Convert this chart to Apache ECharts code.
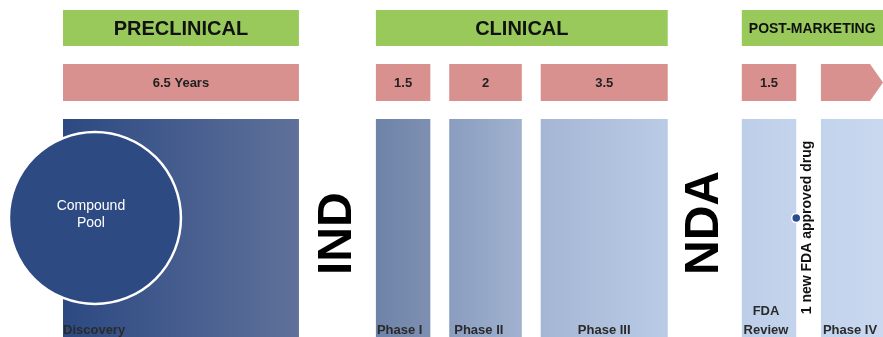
<!DOCTYPE html>
<html>
<head>
<meta charset="utf-8">
<script src="https://cdn.jsdelivr.net/npm/echarts@6/dist/echarts.min.js"></script>
<style>
  html, body { margin: 0; padding: 0; background: #ffffff; }
  #chart { width: 883px; height: 337px; }
</style>
</head>
<body>
<div id="chart"></div>
<script>
// Drug development timeline: phases, stage durations (years) and stages
const phaseNames = ['PRECLINICAL', 'CLINICAL', 'POST-MARKETING'];
const stageNames = ['Discovery', 'Phase I', 'Phase II', 'Phase III', 'FDA\nReview', 'Phase IV'];
const stageYears = [6.5, 1.5, 2, 3.5, 1.5, null];          // Phase IV is open-ended
const yearLabels = ['6.5 Years', '1.5', '2', '3.5', '1.5', ''];
const stagePhase = [0, 1, 1, 1, 2, 2];
const filingNames = ['IND', 'NDA'];
const filingAfterStage = [0, 3];
const poolLabel = 'Compound\nPool';
const approvalLabel = '1 new FDA approved drug';
const approvalAfterStage = 4;

// ---- layout ----
const FONT = '"Liberation Sans", Arial, Helvetica, sans-serif';
const gapYears = [2.12, 0.52, 0.52, 2.04, 0.68];           // white space between stage blocks
const X_MIN = -1.7355, X_MAX = 22.59;
const ROWS = { phase: [10, 46], dur: [64, 101], stage: [119, 345] };
const GREEN = '#99c95b';
const RED = '#d8918f';
const stageColors = [
  ['#2c4982', '#5f719a'],
  ['#6d83a8', '#7e90b2'],
  ['#8a9dbf', '#a0b2cf'],
  ['#a4b6d4', '#b9cbe5'],
  ['#bdcee9', '#c4d4ec'],
  ['#c2d3ec', '#c9d8ef']
];
const stageLabelAlign = ['left', 'left', 'left', 'center', 'center', 'left'];
const stageLabelPad = [0, 1, 5, 0, -3, 2];

// stage start / end positions on the year axis
const starts = [], ends = [];
{
  let t = 0;
  stageNames.forEach((_, i) => {
    starts.push(t);
    const len = stageYears[i] == null ? null : stageYears[i];
    ends.push(len == null ? X_MAX : t + len);
    if (len != null) t += len + (gapYears[i] || 0);
  });
}

const phaseData = phaseNames.map((_, p) => {
  const idx = stagePhase.map((q, i) => q === p ? i : -1).filter(i => i >= 0);
  const s = starts[idx[0]];
  const last = idx[idx.length - 1];
  const e = stageYears[last] == null ? X_MAX + 0.5 : ends[last];
  return [s, e, p];
});
const stageData = stageNames.map((_, i) => [starts[i], ends[i], i]);
const filingData = filingAfterStage.map((si, j) => [(ends[si] + starts[si + 1]) / 2, j]);

const chart = echarts.init(document.getElementById('chart'), null, { renderer: 'canvas' });

function rectBetween(api, x0, x1, row) {
  const a = api.coord([x0, row[0]]);
  const b = api.coord([x1, row[1]]);
  return { x: a[0], y: a[1], width: b[0] - a[0], height: b[1] - a[1] };
}

const option = {
  animation: false,
  grid: { left: 0, right: 0, top: 0, bottom: 0 },
  xAxis: { type: 'value', min: X_MIN, max: X_MAX, show: false },
  yAxis: { type: 'value', min: 0, max: 337, inverse: true, show: false },
  series: [
    {
      // green phase headers
      type: 'custom', name: 'phases', clip: false, data: phaseData,
      renderItem: (params, api) => {
        const p = api.value(2);
        const r = rectBetween(api, api.value(0), api.value(1), ROWS.phase);
        const last = p === phaseNames.length - 1;
        return {
          type: 'group',
          children: [
            { type: 'rect', shape: r, style: { fill: GREEN } },
            {
              type: 'text',
              style: {
                text: phaseNames[p],
                x: last ? r.x + 7 : r.x + r.width / 2,
                y: r.y + r.height / 2 + 1,
                align: last ? 'left' : 'center', verticalAlign: 'middle',
                font: `bold ${last ? 14 : 20}px ${FONT}`, fill: '#111111'
              }
            }
          ]
        };
      }
    },
    {
      // red duration boxes (last one is an open-ended arrow)
      type: 'custom', name: 'durations', clip: false, data: stageData,
      renderItem: (params, api) => {
        const i = api.value(2);
        const r = rectBetween(api, api.value(0), api.value(1), ROWS.dur);
        let shape;
        if (stageYears[i] == null) {
          const tip = r.x + r.width, mid = r.y + r.height / 2;
          shape = {
            type: 'polygon',
            shape: { points: [[r.x, r.y], [tip - 13, r.y], [tip, mid], [tip - 13, r.y + r.height], [r.x, r.y + r.height]] },
            style: { fill: RED }
          };
        } else {
          shape = { type: 'rect', shape: r, style: { fill: RED } };
        }
        return {
          type: 'group',
          children: [
            shape,
            {
              type: 'text',
              style: {
                text: yearLabels[i], x: r.x + r.width / 2, y: r.y + r.height / 2 + 1,
                align: 'center', verticalAlign: 'middle',
                font: `bold 13px ${FONT}`, fill: '#222222'
              }
            }
          ]
        };
      }
    },
    {
      // blue stage panels
      type: 'custom', name: 'stages', clip: false, data: stageData,
      renderItem: (params, api) => {
        const i = api.value(2);
        const r = rectBetween(api, api.value(0), api.value(1), ROWS.stage);
        const lines = stageNames[i].split('\n').length;
        const lh = 19;
        const align = stageLabelAlign[i];
        const tx = align === 'center' ? r.x + r.width / 2 + stageLabelPad[i] : r.x + stageLabelPad[i];
        return {
          type: 'group',
          children: [
            {
              type: 'rect', shape: r,
              style: {
                fill: new echarts.graphic.LinearGradient(0, 0, 1, 0, [
                  { offset: 0, color: stageColors[i][0] },
                  { offset: 1, color: stageColors[i][1] }
                ])
              }
            },
            {
              type: 'text',
              style: {
                text: stageNames[i], x: tx, y: 330 - (lines - 1) * lh / 2,
                align: align, verticalAlign: 'middle', lineHeight: lh,
                font: `bold 13px ${FONT}`, fill: '#2a2a2a'
              }
            }
          ]
        };
      }
    },
    {
      // compound pool circle
      type: 'scatter', name: 'pool', clip: false,
      data: [[0.88, 218]],
      symbol: 'circle', symbolSize: 172,
      itemStyle: { color: '#2d4a82', borderColor: '#ffffff', borderWidth: 2.5, opacity: 1 },
      label: {
        show: true, position: 'inside', formatter: poolLabel,
        color: '#ffffff', fontFamily: FONT, fontSize: 14, lineHeight: 17,
        offset: [-4, -3]
      },
      silent: true, z: 3
    },
    {
      // regulatory filings drawn in the gaps between stage blocks
      type: 'custom', name: 'filings', clip: false, data: filingData,
      renderItem: (params, api) => {
        const j = api.value(1);
        const c = api.coord([api.value(0), 275]);
        return {
          type: 'text', x: c[0], y: c[1], rotation: Math.PI / 2,
          style: {
            text: filingNames[j], x: 0, y: 0, align: 'left', verticalAlign: 'middle',
            font: `bold 48px ${FONT}`, fill: '#000000'
          }
        };
      }
    },
    {
      // approval marker at the end of FDA review
      type: 'custom', name: 'approval', clip: false,
      data: [[ends[approvalAfterStage], 218]],
      renderItem: (params, api) => {
        const c = api.coord([api.value(0), api.value(1)]);
        return {
          type: 'group',
          children: [
            { type: 'circle', shape: { cx: c[0], cy: c[1], r: 4.5 }, style: { fill: '#2a4d8e', stroke: '#ffffff', lineWidth: 1.5 } },
            {
              type: 'text', x: c[0] + 11, y: 227.5, rotation: Math.PI / 2,
              style: {
                text: approvalLabel, x: 0, y: 0, align: 'center', verticalAlign: 'middle',
                font: `bold 14px ${FONT}`, fill: '#111111'
              }
            }
          ]
        };
      },
      z: 4
    }
  ]
};

chart.setOption(option);
</script>
</body>
</html>
